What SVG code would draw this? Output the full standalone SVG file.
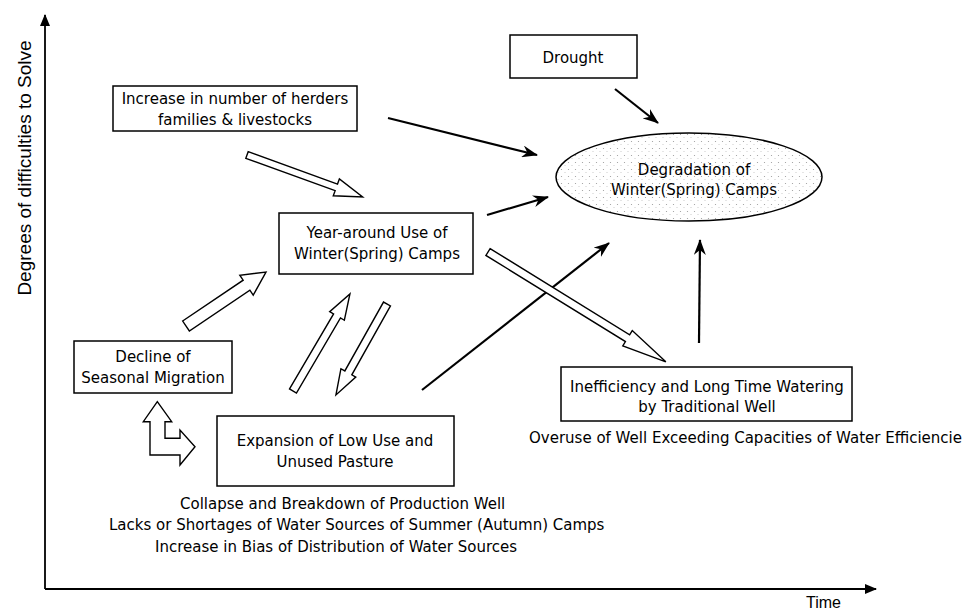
<svg xmlns="http://www.w3.org/2000/svg" width="978" height="613" viewBox="0 0 978 613">
<style>
.box{fill:#fff;stroke:#000;stroke-width:1.5}
.t{font-family:"DejaVu Sans",sans-serif;font-size:15px;fill:#000;text-anchor:middle}
.tl{font-family:"DejaVu Sans",sans-serif;font-size:15px;fill:#000}
.ax{font-family:"Liberation Sans",Arial,sans-serif;fill:#000}
.hollow{fill:#fff;stroke:#000;stroke-width:1.4;stroke-linejoin:miter}
.blk{fill:none;stroke:#000;stroke-width:2.2;marker-end:url(#ah)}
.axis{fill:none;stroke:#000;stroke-width:1.8}
</style>
<defs>
<marker id="ah" markerUnits="userSpaceOnUse" markerWidth="16" markerHeight="12" refX="15" refY="6" orient="auto">
<path d="M0,0 L16,6 L0,12 L5,6 z" fill="#000"/>
</marker>
<marker id="axh" markerUnits="userSpaceOnUse" markerWidth="12" markerHeight="10" refX="11" refY="5" orient="auto">
<path d="M0,0 L12,5 L0,10 z" fill="#000"/>
</marker>
<pattern id="stip" width="7" height="7" patternUnits="userSpaceOnUse">
<rect width="7" height="7" fill="#fff"/>
<circle cx="1.5" cy="1.5" r="0.6" fill="#999"/>
<circle cx="5" cy="4.5" r="0.5" fill="#bbb"/>
</pattern>
</defs>

<g id="axes">
<path class="axis" d="M45,589 L45,15" marker-end="url(#axh)"/>
<path class="axis" d="M45,589 L876,589" marker-end="url(#axh)"/>
<text class="ax" font-size="19" text-anchor="middle" transform="translate(31,168) rotate(-90)">Degrees of difficulties to Solve</text>
<text class="ax" font-size="16" x="806" y="608">Time</text>
</g>

<g id="connectors">
<path class="blk" d="M388,118 L537,155"/>
<path class="blk" d="M487,215 L548,197"/>
<path class="blk" d="M615,89 L658,123"/>
<path class="blk" d="M422,390 L609,243"/>
<path class="blk" d="M699,343 L700,240"/>
<polygon class="hollow" transform="translate(247,155) rotate(19.9)" points="0,-3.5 95,-3.5 95,-9 123,0 95,9 95,3.5 0,3.5"/>
<polygon class="hollow" transform="translate(186,326) rotate(-34)" points="0,-6 73,-6 73,-12 96.5,0 73,12 73,6 0,6"/>
<polygon class="hollow" transform="translate(293,391) rotate(-59.6)" points="0,-4 87,-4 87,-8.5 112.5,0 87,8.5 87,4 0,4"/>
<polygon class="hollow" transform="translate(387,304) rotate(119.3)" points="0,-4 79,-4 79,-8.5 104.3,0 79,8.5 79,4 0,4"/>
<polygon class="hollow" transform="translate(488,252) rotate(31.7)" points="0,-4 164,-4 164,-9 209,0 164,9 164,4 0,4"/>
<polygon class="hollow" points="157.3,401.7 171.7,421.7 165,421.7 165,438.3 180,438.3 180,430 195,446.7 180,465 180,455 150,455 150,421.7 143.3,421.7"/>
</g>

<g id="drought">
<rect class="box" x="510" y="35" width="127" height="43"/>
<text class="t" x="573" y="63">Drought</text>
</g>

<g id="increase">
<rect class="box" x="113" y="86" width="244" height="45"/>
<text class="t" x="235" y="104">Increase in number of herders</text>
<text class="t" x="235" y="125">families &amp; livestocks</text>
</g>

<g id="degradation">
<ellipse cx="689" cy="177" rx="133" ry="44" fill="url(#stip)" stroke="#000" stroke-width="1.5"/>
<text class="t" x="694" y="175">Degradation of</text>
<text class="t" x="694" y="195">Winter(Spring) Camps</text>
</g>

<g id="yeararound">
<rect class="box" x="279" y="213" width="194" height="61"/>
<text class="t" x="377" y="238">Year-around Use of</text>
<text class="t" x="377" y="259">Winter(Spring) Camps</text>
</g>

<g id="decline">
<rect class="box" x="74" y="341" width="158" height="52"/>
<text class="t" x="153" y="362">Decline of</text>
<text class="t" x="153" y="383">Seasonal Migration</text>
</g>

<g id="expansion">
<rect class="box" x="217" y="416" width="237" height="70"/>
<text class="t" x="335" y="446">Expansion of Low Use and</text>
<text class="t" x="335" y="467">Unused Pasture</text>
</g>

<g id="expansion-notes">
<text class="tl" x="180" y="509">Collapse and Breakdown of Production Well</text>
<text class="tl" x="109" y="530">Lacks or Shortages of Water Sources of Summer (Autumn) Camps</text>
<text class="tl" x="155" y="552">Increase in Bias of Distribution of Water Sources</text>
</g>

<g id="inefficiency">
<rect class="box" x="561" y="367" width="291" height="54"/>
<text class="t" x="707" y="392">Inefficiency and Long Time Watering</text>
<text class="t" x="707" y="412">by Traditional Well</text>
<text class="tl" x="529" y="443">Overuse of Well Exceeding Capacities of Water Efficiencie</text>
</g>
</svg>
